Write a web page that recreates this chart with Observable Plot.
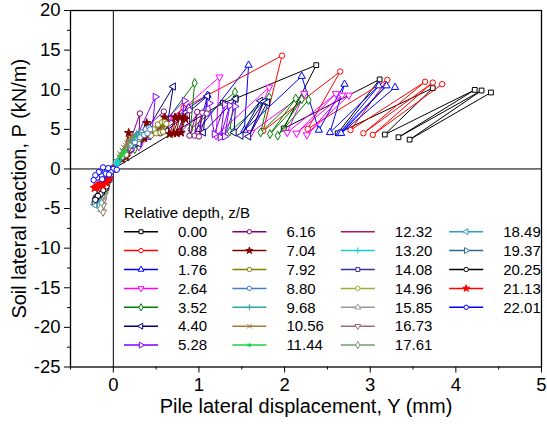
<!DOCTYPE html>
<html><head><meta charset="utf-8">
<script src="https://cdn.jsdelivr.net/npm/d3@7"></script>
<script src="https://cdn.jsdelivr.net/npm/@observablehq/plot@0.6"></script>
<style>body{margin:0;background:#fff;} #chart{width:547px;height:434px;}</style>
</head><body><div id="chart"></div>
<script>
// ---- data ----
const depths = ["0.00","0.88","1.76","2.64","3.52","4.40","5.28","6.16","7.04","7.92","8.80","9.68","10.56","11.44","12.32","13.20","14.08","14.96","15.85","16.73","17.61","18.49","19.37","20.25","21.13","22.01"];
const xTicks = [0,1,2,3,4,5];
const xMinor = [-0.5,0.5,1.5,2.5,3.5,4.5];
const yTicks = [-25,-20,-15,-10,-5,0,5,10,15,20];
const yMinor = [-22.5,-17.5,-12.5,-7.5,-2.5,2.5,7.5,12.5,17.5];

const d0_00 = [[0,0],[1.28,8.35],[1.43,8.9],[2.37,13.1],[1.99,5.1],[3.11,11.3],[2.62,4.5],[3.73,10.2],[3.17,4.34],[4.22,9.98],[3.33,4.0],[4.3,9.9],[3.46,3.7],[4.41,9.65]];
const d0_88 = [[0,0],[0.3,3.0],[0.82,7.7],[1.97,14.3],[1.75,4.8],[2.65,12.3],[2.27,5.06],[3.2,11.25],[2.77,4.9],[3.64,11.0],[2.92,4.5],[3.73,10.9],[3.03,4.3],[3.84,10.7]];
const d1_76 = [[0,0],[0.4,4.0],[0.88,7.7],[1.1,9.3],[1.0,5.0],[1.58,13.1],[1.53,4.9],[2.2,11.7],[2.4,4.9],[2.7,10.7],[2.53,4.6],[3.1,10.5],[2.64,4.5],[3.19,10.5],[2.66,4.5],[3.29,10.3]];
const d2_64 = [[0,0],[0.3,2.8],[0.7,6.5],[1.24,11.6],[1.2,4.2],[1.82,10.3],[1.61,4.6],[2.23,9.5],[2.03,4.6],[2.6,9.5],[2.14,4.5],[2.67,9.3],[2.26,4.3],[2.75,9.3]];
const d3_52 = [[0,0],[0.25,2.5],[0.6,5.8],[0.95,10.85],[0.9,5.0],[1.42,9.7],[1.36,4.7],[1.82,9.05],[1.72,4.6],[2.13,8.9],[1.83,4.4],[2.2,8.8],[1.92,4.2],[2.28,8.7]];
const d4_40 = [[0,0],[0.3,3.2],[0.70,10.4],[0.62,4.8],[1.1,9.2],[1.05,4.6],[1.43,8.85],[1.41,4.6],[1.72,8.6],[1.49,4.2],[1.76,8.5],[1.58,4.1],[1.8,8.4]];
const d5_28 = [[0,0],[0.2,2.4],[0.49,9.1],[0.45,4.4],[0.83,8.6],[0.78,4.6],[1.12,8.3],[1.18,4.4],[1.3,8.1],[1.25,4.0],[1.36,8.0],[1.3,4.1],[1.42,7.9]];
const d6_16 = [[0,0],[0.15,2.0],[0.31,7.0],[0.3,4.4],[0.59,7.25],[0.55,4.5],[0.89,7.4],[0.89,4.2],[0.98,7.2],[0.95,4.2],[1.04,7.1],[1.0,4.1],[1.09,7.0]];
const d7_04 = [[0,0],[0.1,1.2],[0.18,4.54],[0.15,1.5],[0.39,5.8],[0.36,3.9],[0.6,6.5],[0.66,4.4],[0.72,6.5],[0.7,4.5],[0.77,6.6],[0.74,4.5],[0.82,6.5],[0.79,4.6],[0.84,6.3]];
const d7_92 = [[0,0],[0.15,1.8],[0.3,3.8],[0.47,5.0],[0.44,4.2],[0.52,5.6],[0.5,4.5],[0.57,5.9],[0.55,4.6],[0.6,5.9],[0.58,4.7],[0.62,5.7]];
const d8_80 = [[0,0],[0.1,1.5],[0.2,3.0],[0.27,4.0],[0.25,3.4],[0.33,4.6],[0.31,4.0],[0.38,5.0],[0.36,4.3],[0.42,5.2],[0.4,4.5],[0.43,5.0]];
const d9_68 = [[0,0],[0.06,1.2],[0.12,2.4],[0.1,2.0],[0.18,3.4],[0.16,2.9],[0.23,4.0],[0.21,3.6],[0.27,4.4],[0.25,4.0],[0.3,4.6]];
const d10_56 = [[0,0],[0.04,0.9],[0.08,1.9],[0.07,1.5],[0.12,2.7],[0.11,2.3],[0.16,3.3],[0.15,2.9],[0.2,3.9],[0.18,3.5],[0.23,4.2]];
const d11_44 = [[0,0],[0.03,0.6],[0.06,1.2],[0.05,0.9],[0.09,1.7],[0.08,1.4],[0.12,2.1],[0.11,1.8],[0.14,2.3]];
const d12_32 = [[0,0],[0.02,0.4],[0.04,0.8],[0.035,0.6],[0.06,1.1],[0.05,0.9],[0.08,1.4]];
const d13_20 = [[0,0],[0.015,0.3],[0.03,0.6],[0.025,0.45],[0.045,0.85],[0.04,0.7],[0.06,1.0]];
const d14_08 = [[0,0],[-0.04,-1.2],[-0.08,-2.4],[-0.07,-1.8],[-0.11,-3.3],[-0.1,-2.7],[-0.13,-4.1]];
const d14_96 = [[0,0],[-0.05,-1.3],[-0.09,-2.6],[-0.08,-2.0],[-0.12,-3.6],[-0.11,-3.0],[-0.14,-4.6],[-0.12,-4.0],[-0.13,-4.9]];
const d15_85 = [[0,0],[-0.05,-1.4],[-0.1,-2.8],[-0.09,-2.3],[-0.13,-3.8],[-0.12,-3.2],[-0.15,-4.7],[-0.13,-4.3],[-0.14,-5.1]];
const d16_73 = [[0,0],[-0.05,-1.5],[-0.1,-3.0],[-0.09,-2.4],[-0.12,-4.0],[-0.11,-3.4],[-0.14,-4.9],[-0.12,-4.6],[-0.12,-5.45]];
const d17_61 = [[0,0],[-0.06,-1.5],[-0.11,-3.0],[-0.1,-2.5],[-0.14,-3.9],[-0.13,-3.4],[-0.16,-4.6],[-0.14,-4.3],[-0.15,-5.0]];
const d18_49 = [[0,0],[-0.06,-1.4],[-0.12,-2.8],[-0.11,-2.3],[-0.17,-3.6],[-0.15,-3.2],[-0.21,-4.2],[-0.19,-3.9],[-0.22,-4.5]];
const d19_37 = [[0,0],[-0.06,-1.3],[-0.12,-2.6],[-0.11,-2.2],[-0.17,-3.3],[-0.16,-3.0],[-0.21,-3.8],[-0.19,-3.6],[-0.22,-4.1]];
const d20_25 = [[0,0],[-0.05,-1.4],[-0.09,-2.5],[-0.08,-2.2],[-0.13,-3.0],[-0.12,-2.7],[-0.17,-3.4],[-0.15,-3.2],[-0.2,-3.7],[-0.18,-3.4],[-0.21,-3.9]];
const d21_13 = [[0,0],[-0.05,-1.2],[-0.09,-1.7],[-0.08,-1.5],[-0.13,-2.0],[-0.12,-1.8],[-0.17,-2.2],[-0.15,-1.9],[-0.2,-2.3],[-0.18,-2.1],[-0.22,-2.4]];
const d22_01 = [[0,0],[0.04,-0.1],[-0.03,-0.4],[-0.06,0.1],[-0.09,-0.6],[-0.12,0.2],[-0.14,-0.9],[-0.17,-0.4],[-0.19,-1.1],[-0.21,-0.8],[-0.23,-1.4],[-0.13,-1.3],[-0.05,-0.7]];

const series = [d0_00,d0_88,d1_76,d2_64,d3_52,d4_40,d5_28,d6_16,d7_04,d7_92,d8_80,d9_68,d10_56,d11_44,d12_32,d13_20,d14_08,d14_96,d15_85,d16_73,d17_61,d18_49,d19_37,d20_25,d21_13,d22_01];

// ---- styles ----
const colors = ["#000000","#ff0000","#0000ff","#ff00ff","#008000","#000080","#8000ff","#800080","#800000","#808000","#3f7fbf","#2ca5a5","#a87a3a","#22cc44","#b0185a","#1accd0","#333399","#99b030","#999999","#a07070","#6f9f6f","#3399cc","#336699","#000000","#ff0000","#0000ff"];
const sqrt3 = Math.sqrt(3);
const triDown = {draw(c,s){const y=-Math.sqrt(s/(sqrt3*3)); c.moveTo(0,-y*2); c.lineTo(-sqrt3*y,y); c.lineTo(sqrt3*y,y); c.closePath();}};
const triLeft = {draw(c,s){const y=-Math.sqrt(s/(sqrt3*3)); c.moveTo(y*2,0); c.lineTo(-y,sqrt3*y); c.lineTo(-y,-sqrt3*y); c.closePath();}};
const triRight = {draw(c,s){const y=-Math.sqrt(s/(sqrt3*3)); c.moveTo(-y*2,0); c.lineTo(y,sqrt3*y); c.lineTo(y,-sqrt3*y); c.closePath();}};
const symbols = [d3.symbolSquare,d3.symbolCircle,d3.symbolTriangle,triDown,d3.symbolDiamond,triLeft,triRight,d3.symbolCircle,d3.symbolStar,d3.symbolCircle,d3.symbolCircle,d3.symbolPlus,d3.symbolTimes,d3.symbolAsterisk,null,d3.symbolPlus,d3.symbolSquare,d3.symbolCircle,d3.symbolTriangle,triDown,d3.symbolDiamond,triLeft,triRight,d3.symbolCircle,d3.symbolStar,d3.symbolCircle];
const strokeOnly = new Set([d3.symbolPlus,d3.symbolTimes,d3.symbolAsterisk]);
const fillOf = i => symbols[i]===d3.symbolStar ? colors[i] : (strokeOnly.has(symbols[i]) ? "none" : "white");
const FONT = "Liberation Sans, Arial, sans-serif";
const R = 2.7;

const marks = [
  Plot.ruleX([0], {stroke:"black", strokeWidth:1}),
  Plot.ruleY([0], {stroke:"black", strokeWidth:1})
];
series.forEach((s,i) => {
  marks.push(Plot.line(s, {x:d=>d[0], y:d=>d[1], stroke:colors[i], strokeWidth:1}));
  if (symbols[i]) marks.push(Plot.dot(s, {x:d=>d[0], y:d=>d[1], symbol:symbols[i], r:R, stroke:colors[i], fill:fillOf(i), strokeWidth:1}));
});
marks.push(
  Plot.frame({stroke:"black", strokeWidth:1.3}),
  Plot.axisX(xTicks, {tickSize:6, tickPadding:5, fontSize:18.5, label:null, tickFormat:d=>String(d)}),
  Plot.axisX(xMinor, {tickSize:3, tickFormat:()=>"", label:null}),
  Plot.axisY(yTicks, {tickSize:6, tickPadding:4, fontSize:18.5, label:null, tickFormat:d=>String(d)}),
  Plot.axisY(yMinor, {tickSize:3, tickFormat:()=>"", label:null}),
  Plot.text(["Pile lateral displacement, Y (mm)"], {text:d=>d, frameAnchor:"bottom", textAnchor:"middle", dy:46, fontSize:20}),
  Plot.text(["Soil lateral reaction, P (kN/m)"], {text:d=>d, frameAnchor:"left", textAnchor:"middle", rotate:-90, dx:-51, fontSize:20})
);

const chart = Plot.plot({
  width:547, height:434,
  marginLeft:70, marginRight:6, marginTop:10, marginBottom:67.5,
  x:{domain:[-0.5,5]},
  y:{domain:[-25,20]},
  style:{fontFamily:FONT, color:"black", background:"white", overflow:"visible"},
  marks
});
document.getElementById("chart").appendChild(chart);

// ---- legend (inside the plot area) ----
const svg = d3.select(chart);
const g = svg.append("g").attr("font-family", FONT).attr("font-size", 15).attr("fill","black").attr("text-anchor","start");
g.append("text").attr("x",124).attr("y",212.7).attr("dy","0.35em").text("Relative depth, z/B");
depths.forEach((d,i) => {
  const col = Math.floor(i/7), row = i%7;
  const x0 = 124 + col*108.4, y = 231.7 + row*18.9;
  g.append("line").attr("x1",x0).attr("x2",x0+34).attr("y1",y).attr("y2",y).attr("stroke",colors[i]).attr("stroke-width",1.5);
  if (symbols[i]) g.append("path").attr("transform",`translate(${x0+17},${y})`)
     .attr("d", d3.symbol(symbols[i], 2.2*2.2*Math.PI)()).attr("stroke",colors[i]).attr("fill",fillOf(i)).attr("stroke-width",1);
  g.append("text").attr("x",x0+54).attr("y",y).attr("dy","0.35em").text(d);
});
</script>
</body></html>
